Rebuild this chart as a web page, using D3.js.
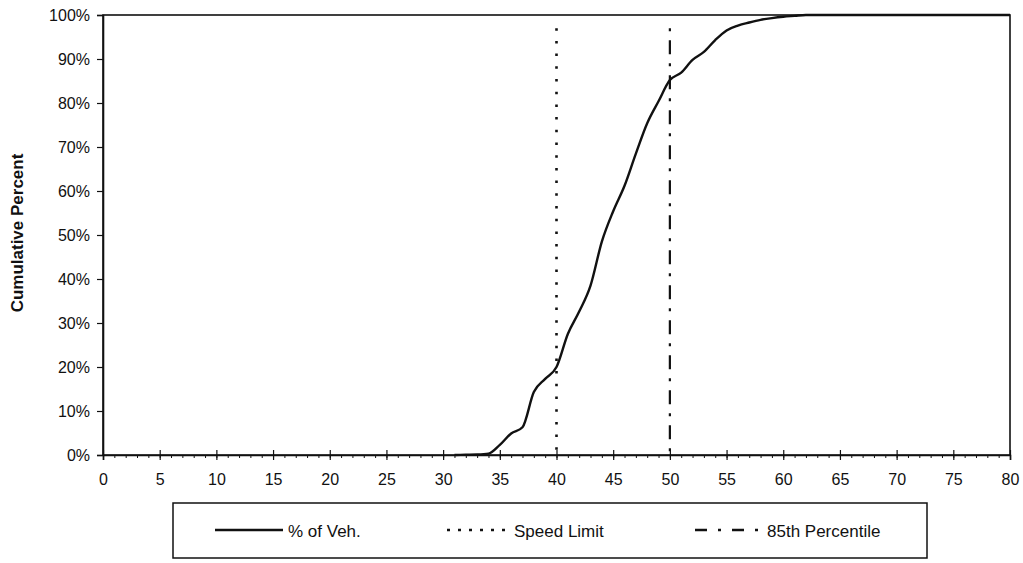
<!DOCTYPE html>
<html><head><meta charset="utf-8">
<script src="https://cdn.jsdelivr.net/npm/d3@7"></script>
<style>
body{margin:0;background:#fff;}
text{font-family:"Liberation Sans",Arial,sans-serif;fill:#111;}
</style></head>
<body><svg id="c" width="1023" height="563"></svg>
<script>
const speeds = [31,32,33,34,35,36,37,38,39,40,41,42,43,44,45,46,47,48,49,50,51,52,53,54,55,56,57,58,59,60,61,62,65,70,75,80];
const cumPct = [0,0.05,0.1,0.3,2.3,4.9,6.3,14.3,17.3,20,27.5,32.6,38.5,48.5,55.4,61.2,68.5,75.4,80.4,85.2,86.9,89.8,91.6,94.3,96.5,97.6,98.3,98.9,99.3,99.6,99.8,100,100,100,100,100];
const speedLimit = 40;
const pct85 = 50;
const xTicks = d3.range(0,81,5);
const yTicks = d3.range(0,101,10);
const legendLabels = ["% of Veh.","Speed Limit","85th Percentile"];

const svg = d3.select("#c");
const L=103,R=1010,T=15,B=455;
const x = d3.scaleLinear().domain([0,80]).range([L,R]);
const y = d3.scaleLinear().domain([0,100]).range([B,T]);

// frame
svg.append("rect").attr("x",L).attr("y",T).attr("width",R-L).attr("height",B-T)
  .attr("fill","none").attr("stroke","#111").attr("stroke-width",1.6);

// y axis
const ya = svg.append("g").attr("transform",`translate(${L},0)`)
  .call(d3.axisLeft(y).tickValues(yTicks).tickFormat(d=>d+"%").tickSize(6).tickPadding(7));
ya.select(".domain").attr("stroke","#111").attr("stroke-width",1.6);
ya.selectAll("line").attr("stroke","#111").attr("stroke-width",1.2);
ya.selectAll("text").style("font-size","16px");

// x axis minor ticks
const xm = svg.append("g").attr("transform",`translate(0,${B})`)
  .call(d3.axisBottom(x).tickValues(d3.range(0,81,1)).tickFormat("").tickSize(3));
xm.select(".domain").remove();
xm.selectAll("line").attr("stroke","#111").attr("stroke-width",1);
// x axis major
const xa = svg.append("g").attr("transform",`translate(0,${B})`)
  .call(d3.axisBottom(x).tickValues(xTicks).tickSize(5).tickPadding(14));
xa.select(".domain").attr("stroke","#111").attr("stroke-width",1.6);
xa.selectAll(".tick line").attr("y1",-5).attr("stroke","#111").attr("stroke-width",1.2);
xa.selectAll("text").style("font-size","16px");

// y label
svg.append("text").attr("transform","translate(23,233) rotate(-90)")
  .attr("text-anchor","middle").style("font-size","17px").style("font-weight","bold")
  .text("Cumulative Percent");

// reference lines
svg.append("line").attr("x1",x(speedLimit)).attr("x2",x(speedLimit)).attr("y1",y(97)).attr("y2",B)
  .attr("stroke","#111").attr("stroke-width",2.6).attr("stroke-dasharray","2.5,10.2");
svg.append("line").attr("x1",x(pct85)).attr("x2",x(pct85)).attr("y1",y(97)).attr("y2",B)
  .attr("stroke","#111").attr("stroke-width",2.2).attr("stroke-dasharray","3,9,14,9");

// curve
svg.append("path").datum(speeds.map((s,i)=>[s,cumPct[i]]))
  .attr("d",d3.line().x(d=>x(d[0])).y(d=>y(d[1])).curve(d3.curveMonotoneX))
  .attr("fill","none").attr("stroke","#111").attr("stroke-width",2.4);

// legend
svg.append("rect").attr("x",173).attr("y",503).attr("width",754).attr("height",55)
  .attr("fill","none").attr("stroke","#111").attr("stroke-width",1.5);
const ly=530;
const items=[{x1:215,x2:283,tx:288,da:null,w:2.4},{x1:447,x2:512,tx:514,da:"3,8",w:2.6},{x1:695,x2:761,tx:767,da:"12,11,3,11",w:2.4}];
items.forEach((it,i)=>{
  svg.append("line").attr("x1",it.x1).attr("x2",it.x2).attr("y1",ly).attr("y2",ly)
    .attr("stroke","#111").attr("stroke-width",it.w).attr("stroke-dasharray",it.da);
  svg.append("text").attr("x",it.tx).attr("y",537).style("font-size","17px").text(legendLabels[i]);
});
</script></body></html>
